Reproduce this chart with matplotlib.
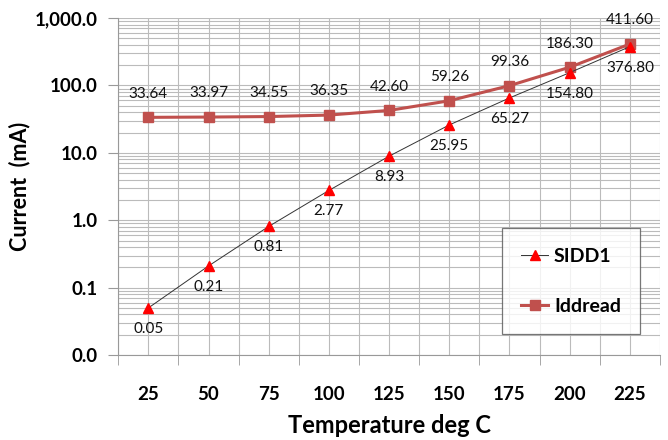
import numpy as np
import matplotlib
matplotlib.use("Agg")
import matplotlib.pyplot as plt
from matplotlib.ticker import FixedLocator, NullFormatter

# chart data
temps = ["25", "50", "75", "100", "125", "150", "175", "200", "225"]
sidd1 = [0.05, 0.21, 0.81, 2.77, 8.93, 25.95, 65.27, 154.80, 376.80]
iddread = [33.64, 33.97, 34.55, 36.35, 42.60, 59.26, 99.36, 186.30, 411.60]
y_ticks = [0.01, 0.1, 1, 10, 100, 1000]
y_tick_labels = ["0.0", "0.1", "1.0", "10.0", "100.0", "1,000.0"]

plt.rcParams['font.family'] = ['Lato', 'DejaVu Sans']

fig = plt.figure(figsize=(6.68, 4.4), dpi=100)
ax = fig.add_axes([0.177, 0.193, 0.811, 0.766])

x = np.arange(len(temps))

ax.plot(x, iddread, color="#C0504D", lw=2.2, marker="s", ms=7,
        mfc="#C0504D", mec="#C0504D", label="Iddread", zorder=3)
ax.plot(x, sidd1, color="#333333", lw=0.7, marker="^", ms=7,
        mfc="#FF0000", mec="#FF0000", label="SIDD1", zorder=4)

for xi, v in zip(x, iddread):
    ax.annotate(f"{v:.2f}", (xi, v), xytext=(0, 12), textcoords="offset points",
                ha="center", va="bottom", fontsize=11, color="#111111")
for xi, v in zip(x, sidd1):
    ax.annotate(f"{v:.2f}", (xi, v), xytext=(0, -10), textcoords="offset points",
                ha="center", va="top", fontsize=11, color="#111111")

ax.set_yscale("log")
ax.set_ylim(0.01, 1000)
ax.set_xlim(-0.5, len(temps) - 0.5)

ax.yaxis.set_major_locator(FixedLocator(y_ticks))
ax.set_yticklabels(y_tick_labels)
ax.yaxis.set_minor_locator(FixedLocator(
    [m * 10.0 ** e for e in range(-2, 3) for m in range(2, 10)]))
ax.yaxis.set_minor_formatter(NullFormatter())

ax.set_xticks(x)
ax.set_xticklabels(temps)
ax.set_xticks(np.arange(-0.5, len(temps)), minor=True)

ax.grid(True, which="both", color="#BBBBBB", lw=0.8)
ax.set_axisbelow(True)

ax.tick_params(axis="x", which="major", length=0, pad=22, labelsize=13.5)
ax.tick_params(axis="x", which="minor", length=7, color="#999999", direction="out")
ax.tick_params(axis="y", which="major", length=7, color="#999999", pad=8, labelsize=13.5)
ax.tick_params(axis="y", which="minor", length=0)
for lab in ax.get_xticklabels() + ax.get_yticklabels():
    lab.set_fontweight("bold")

for s in ["top", "right"]:
    ax.spines[s].set_visible(False)
ax.spines["left"].set_color("#999999")
ax.spines["bottom"].set_color("#999999")

ax.set_xlabel("Temperature deg C", fontsize=17, fontweight="bold", labelpad=8)
ax.set_ylabel("Current  (mA)", fontsize=15.5, fontweight="bold")
ax.yaxis.set_label_coords(-0.163, 0.5)

handles, labels = ax.get_legend_handles_labels()
leg = ax.legend(handles[::-1], labels[::-1], loc="lower right",
                bbox_to_anchor=(0.964, 0.062), frameon=True,
                fancybox=False, edgecolor="#555555", labelspacing=1.7,
                borderpad=1.0, handlelength=1.4, handletextpad=0.3,
                borderaxespad=0, prop={"weight": "bold", "size": 14})
leg.get_frame().set_linewidth(0.9)

fig.savefig("out.png", dpi=100)
